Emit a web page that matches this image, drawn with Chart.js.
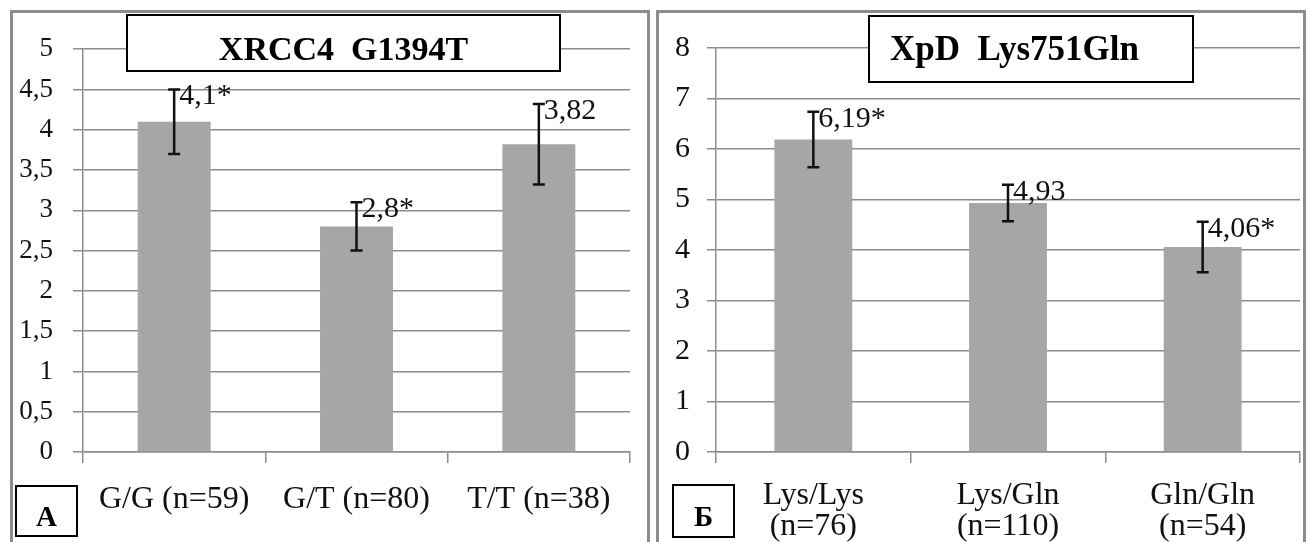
<!DOCTYPE html>
<html>
<head>
<meta charset="utf-8">
<script src="https://cdn.jsdelivr.net/npm/chart.js@4/dist/chart.umd.min.js"></script>
<style>
  html, body { margin: 0; padding: 0; background: #fff; overflow: hidden; }
  body { width: 1308px; height: 542px; position: relative; }
  .panel { position: absolute; top: 10px; border: 3px solid #8c8c8c; background: #fff; }
  #panel_a { left: 10px; width: 634px; height: 545px; }
  #panel_b { left: 656px; width: 644px; height: 545px; }
  canvas { display: block; }
</style>
</head>
<body>
<div class="panel" id="panel_a"><canvas id="chart_a" width="634" height="529"></canvas></div>
<div class="panel" id="panel_b"><canvas id="chart_b" width="644" height="529"></canvas></div>
<script>
// panel A: XRCC4 G1394T
const genotypesA = ['G/G (n=59)', 'G/T (n=80)', 'T/T (n=38)'];
const meansA = [4.1, 2.8, 3.82];
const errorsA = [0.4, 0.3, 0.5];
const signifA = [true, true, false];

// panel Б: XpD Lys751Gln
const genotypesB = [['Lys/Lys', '(n=76)'], ['Lys/Gln', '(n=110)'], ['Gln/Gln', '(n=54)']];
const meansB = [6.19, 4.93, 4.06];
const errorsB = [0.55, 0.36, 0.5];
const signifB = [true, false, true];

const serif = '"Liberation Serif", "Times New Roman", serif';
const grey = '#8c8c8c';
const barGrey = '#a6a6a6';

const comma = v => String(v).replace('.', ',');

// error bars, value labels, title box and panel letter
const decor = {
    id: 'decor',
    afterDatasetsDraw(chart, args, opts) {
        const ctx = chart.ctx;
        const xs = chart.scales.x;
        const ys = chart.scales.y;
        const values = chart.data.datasets[0].data;
        ctx.save();
        values.forEach((v, i) => {
            const cx = xs.getPixelForValue(i);
            const top = ys.getPixelForValue(v + opts.errors[i]);
            const bot = ys.getPixelForValue(v - opts.errors[i]);
            ctx.strokeStyle = '#111';
            ctx.lineWidth = 2.5;
            ctx.beginPath();
            ctx.moveTo(cx, top); ctx.lineTo(cx, bot);
            ctx.moveTo(cx - 6, top); ctx.lineTo(cx + 6, top);
            ctx.moveTo(cx - 6, bot); ctx.lineTo(cx + 6, bot);
            ctx.stroke();
            ctx.fillStyle = '#111';
            ctx.font = opts.labelFont;
            ctx.textAlign = 'left';
            ctx.textBaseline = 'middle';
            ctx.fillText(comma(v) + (opts.signif[i] ? '*' : ''), cx + 5, top + 7);
        });

        const boxes = [opts.title, opts.letter];
        boxes.forEach(b => {
            const [bx, by, bw, bh] = b.box;
            ctx.fillStyle = '#fff';
            ctx.fillRect(bx, by, bw, bh);
            ctx.strokeStyle = '#000';
            ctx.lineWidth = 2;
            ctx.strokeRect(bx, by, bw, bh);
            ctx.fillStyle = '#000';
            ctx.font = b.font;
            ctx.textBaseline = 'alphabetic';
            if (b.textX == null) {
                ctx.textAlign = 'center';
                ctx.fillText(b.text, bx + bw / 2, b.baseline);
            } else {
                ctx.textAlign = 'left';
                ctx.fillText(b.text, b.textX, b.baseline);
            }
        });
        ctx.restore();
    }
};

function makeOptions(cfg) {
    return {
        responsive: false,
        animation: false,
        layout: { padding: { top: cfg.padTop, right: cfg.padRight, left: 0, bottom: 0 } },
        plugins: {
            legend: { display: false },
            tooltip: { enabled: false },
            decor: cfg.decor
        },
        scales: {
            x: {
                grid: { drawOnChartArea: false, offset: true, color: grey, lineWidth: 1.5, tickLength: 11 },
                border: { color: grey, width: 1.5 },
                ticks: {
                    color: '#111',
                    padding: cfg.xPad,
                    maxRotation: 0,
                    autoSkip: false,
                    font: { family: serif, size: 32, lineHeight: 0.98 }
                },
                afterFit: s => { s.height = 90; }
            },
            y: {
                min: 0,
                max: cfg.yMax,
                grid: { color: grey, lineWidth: 1.5, tickLength: cfg.yTick },
                border: { color: grey, width: 1.5 },
                ticks: {
                    stepSize: cfg.yStep,
                    color: '#111',
                    padding: cfg.yPad,
                    font: { family: serif, size: cfg.yFont },
                    callback: v => comma(v)
                },
                afterFit: s => { s.width = cfg.yWidth; }
            }
        }
    };
}

Chart.register(decor);

new Chart(document.getElementById('chart_a'), {
    type: 'bar',
    data: {
        labels: genotypesA,
        datasets: [{ data: meansA, backgroundColor: barGrey, borderWidth: 0,
                     barPercentage: 0.4, categoryPercentage: 1 }]
    },
    options: makeOptions({
        padTop: 28, padRight: 17, yMax: 5, yStep: 0.5, yTick: 10, yPad: 20, yFont: 27, yWidth: 70, xPad: 21,
        decor: {
            errors: errorsA,
            signif: signifA,
            labelFont: '30px ' + serif,
            title: { text: 'XRCC4  G1394T', box: [114, 2, 433, 56], baseline: 47, font: 'bold 34px ' + serif },
            letter: { text: 'А', box: [3, 473, 61, 50], baseline: 513, font: 'bold 29px ' + serif }
        }
    })
});

new Chart(document.getElementById('chart_b'), {
    type: 'bar',
    data: {
        labels: genotypesB,
        datasets: [{ data: meansB, backgroundColor: barGrey, borderWidth: 0,
                     barPercentage: 0.4, categoryPercentage: 1 }]
    },
    options: makeOptions({
        padTop: 29, padRight: 3, yMax: 8, yStep: 1, yTick: 9, yPad: 17, yFont: 30, yWidth: 57, xPad: 17,
        decor: {
            errors: errorsB,
            signif: signifB,
            labelFont: '30px ' + serif,
            title: { text: 'XpD  Lys751Gln', box: [210, 3, 324, 66], textX: 231, baseline: 47, font: 'bold 35px ' + serif },
            letter: { text: 'Б', box: [14, 472, 61, 52], baseline: 513, font: 'bold 29px ' + serif }
        }
    })
});
</script>
</body>
</html>
